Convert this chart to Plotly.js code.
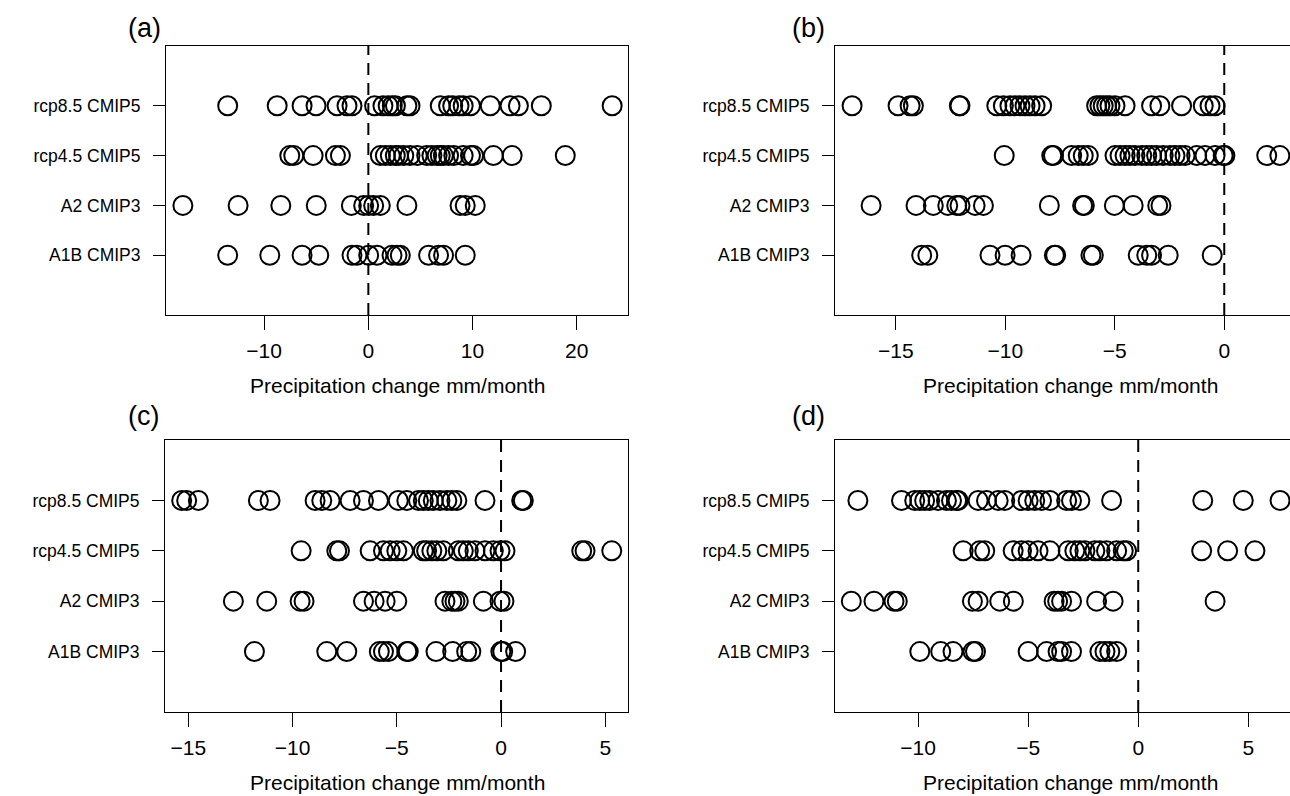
<!DOCTYPE html>
<html>
<head>
<meta charset="utf-8">
<script src="https://cdn.plot.ly/plotly-3.0.1.min.js"></script>
<style>
html,body{margin:0;padding:0;overflow:hidden;background:#fff;}
#chart{width:1320px;height:796px;}
</style>
</head>
<body>
<div id="chart"></div>
<script>
// Rows (bottom to top)
const categories = ["A1B CMIP3", "A2 CMIP3", "rcp4.5 CMIP5", "rcp8.5 CMIP5"];
const panelLabels = ["(a)", "(b)", "(c)", "(d)"];
const xTitle = "Precipitation change mm/month";

// Panel (a)
const a_A1B = [-13.5, -9.46, -6.36, -4.76, -1.57, -1.09, 0.03, 0.83, 2.27, 2.75, 3.07, 5.78, 6.74, 7.22, 9.3];
const a_A2 = [-17.8, -12.5, -8.4, -5.0, -1.63, -0.45, 0.03, 0.51, 1.15, 3.7, 8.8, 9.3, 10.26];
const a_rcp45 = [-7.54, -7.16, -5.3, -3.16, -2.68, 1.15, 1.63, 2.11, 2.59, 2.9, 3.4, 4.0, 4.7, 5.6, 6.1, 6.6, 6.9, 7.2, 7.7, 8.2, 9.1, 9.8, 10.1, 12.0, 13.8, 18.9];
const a_rcp85 = [-13.5, -8.75, -6.36, -5.02, -3.0, -2.05, -1.57, 0.6, 1.4, 1.9, 2.3, 2.6, 3.7, 4.0, 6.9, 7.7, 8.1, 8.7, 9.1, 9.8, 11.7, 13.6, 14.4, 16.6, 23.4];

// Panel (b)
const b_A1B = [-13.82, -13.54, -10.7, -10.01, -9.28, -7.76, -7.7, -6.09, -5.98, -3.93, -3.54, -3.32, -2.56, -0.55];
const b_A2 = [-16.13, -14.08, -13.29, -12.63, -12.22, -12.07, -11.38, -11.0, -7.99, -6.47, -6.39, -5.02, -4.16, -3.04, -2.89];
const b_rcp45 = [-10.05, -7.88, -7.8, -6.97, -6.67, -6.44, -6.21, -4.99, -4.76, -4.53, -4.31, -4.08, -3.77, -3.54, -3.32, -3.09, -2.79, -2.48, -2.25, -2.02, -1.79, -1.26, -0.88, -0.42, -0.05, 0.03, 1.94, 2.54];
const b_rcp85 = [-17.0, -14.9, -14.35, -14.2, -12.1, -12.07, -10.39, -10.09, -9.79, -9.56, -9.33, -9.1, -8.87, -8.64, -8.34, -5.83, -5.68, -5.53, -5.37, -5.22, -4.99, -4.53, -3.32, -2.94, -1.95, -0.96, -0.65, -0.42];

// Panel (c)
const c_A1B = [-11.83, -8.36, -7.4, -5.84, -5.64, -5.4, -4.52, -4.45, -3.12, -2.32, -1.65, -1.45, -0.01, 0.08, 0.70];
const c_A2 = [-12.84, -11.24, -9.64, -9.45, -6.6, -6.09, -5.56, -5.0, -2.69, -2.36, -2.21, -2.05, -0.85, -0.05, 0.14];
const c_rcp45 = [-9.59, -7.88, -7.75, -6.28, -5.64, -5.32, -5.0, -4.68, -3.73, -3.57, -3.32, -3.08, -2.77, -2.05, -1.81, -1.57, -1.25, -0.77, -0.37, -0.05, 0.19, 3.87, 4.03, 5.31];
const c_rcp85 = [-15.32, -15.08, -14.52, -11.64, -11.08, -8.92, -8.6, -8.2, -7.24, -6.6, -5.88, -4.93, -4.52, -3.96, -3.73, -3.49, -3.25, -2.93, -2.6, -2.36, -2.12, -0.77, 0.99, 1.07];

// Panel (d)
const d_A1B = [-9.92, -8.97, -8.41, -7.5, -7.39, -5.0, -4.16, -3.64, -3.48, -3.03, -1.74, -1.51, -1.29, -0.98];
const d_A2 = [-13.03, -12.0, -11.09, -10.94, -7.53, -7.27, -6.29, -5.67, -3.82, -3.66, -3.48, -3.03, -1.89, -1.14, 3.49];
const d_rcp45 = [-7.95, -7.2, -6.97, -5.68, -5.3, -5.0, -4.55, -4.01, -3.18, -2.88, -2.65, -2.42, -1.97, -1.74, -1.44, -0.98, -0.68, -0.53, 2.88, 4.06, 5.3];
const d_rcp85 = [-12.73, -10.75, -10.15, -9.92, -9.7, -9.47, -9.09, -8.71, -8.48, -8.25, -8.18, -7.27, -6.89, -6.36, -6.06, -5.3, -5.0, -4.7, -4.39, -4.01, -3.25, -3.03, -2.65, -1.21, 2.93, 4.77, 6.44];

const panelData = [
  [a_A1B, a_A2, a_rcp45, a_rcp85],
  [b_A1B, b_A2, b_rcp45, b_rcp85],
  [c_A1B, c_A2, c_rcp45, c_rcp85],
  [d_A1B, d_A2, d_rcp45, d_rcp85]
];
const xRanges = [[-19.42, 24.92], [-17.78, 3.46], [-16.12, 6.09], [-13.77, 7.8]];
const xDticks = [10, 5, 5, 5];

// Geometry (pixels)
const W = 1320, H = 796;
const boxes = [
  {x0:166, x1:628, y0:46, y1:315},
  {x0:835, x1:1300, y0:46, y1:315},
  {x0:165, x1:628, y0:440, y1:712},
  {x0:835, x1:1310, y0:440, y1:712}
];
const labelPos = [[126, 28], [790, 28], [126, 416], [790, 416]];
const titleX = [397, 1070, 397, 1070];
const fx = p => p / W;
const fy = p => 1 - p / H;

const FONT = "Liberation Sans, Arial, Helvetica, sans-serif";
const traces = [];
const layout = {
  width: W, height: H,
  margin: {l:0, r:0, t:0, b:0},
  paper_bgcolor: "#fff", plot_bgcolor: "#fff",
  showlegend: false,
  font: {family: FONT, color: "#000", size: 20},
  shapes: [], annotations: []
};

panelData.forEach((rows, p) => {
  const n = p + 1;
  const xa = n === 1 ? "x" : "x" + n;
  const ya = n === 1 ? "y" : "y" + n;
  rows.forEach((vals, r) => {
    traces.push({
      type: "scatter", mode: "markers",
      x: vals, y: vals.map(() => r + 1),
      xaxis: xa, yaxis: ya,
      marker: {symbol: "circle-open", size: 19, color: "#000", line: {width: 2, color: "#000"}},
      hoverinfo: "x"
    });
  });
  const b = boxes[p];
  layout["xaxis" + (n === 1 ? "" : n)] = {
    domain: [fx(b.x0), fx(b.x1)],
    anchor: ya,
    range: xRanges[p],
    dtick: xDticks[p], tick0: 0,
    showgrid: false, zeroline: false,
    showline: true, linecolor: "#000", linewidth: 1, mirror: true,
    ticks: "outside", ticklen: 14, tickwidth: 1, tickcolor: "#000",
    tickfont: {family: FONT, size: 21, color: "#000"},
    ticklabelstandoff: 3
  };
  layout["yaxis" + (n === 1 ? "" : n)] = {
    domain: [fy(b.y1), fy(b.y0)],
    anchor: xa,
    range: [-0.2, 5.2],
    tickvals: [1, 2, 3, 4], ticktext: categories,
    showgrid: false, zeroline: false,
    showline: true, linecolor: "#000", linewidth: 1, mirror: true,
    ticks: "outside", ticklen: 12, tickwidth: 1, tickcolor: "#000",
    tickfont: {family: FONT, size: 17.5, color: "#000"},
    ticklabelstandoff: 9
  };
  layout.shapes.push({
    type: "line", xref: xa, yref: ya + " domain",
    x0: 0, x1: 0, y0: 0, y1: 1,
    line: {color: "#000", width: 2, dash: "12px,8px"}
  });
  layout.annotations.push({
    text: xTitle, xref: "paper", yref: "paper",
    x: fx(titleX[p]), y: fy(b.y1 + 70),
    xanchor: "center", yanchor: "middle", showarrow: false,
    font: {family: FONT, size: 21, color: "#000"}
  });
  layout.annotations.push({
    text: panelLabels[p], xref: "paper", yref: "paper",
    x: fx(labelPos[p][0]), y: fy(labelPos[p][1]),
    xanchor: "left", yanchor: "middle", showarrow: false,
    font: {family: FONT, size: 27, color: "#000"}
  });
});

Plotly.newPlot("chart", traces, layout, {displayModeBar: false, staticPlot: true});
</script>
</body>
</html>
